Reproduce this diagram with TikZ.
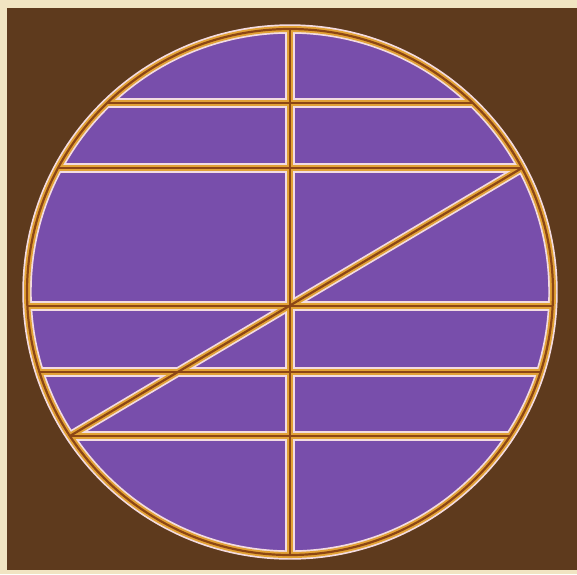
\documentclass[tikz,border=0pt]{standalone}
\usepackage{tikz}

\definecolor{paper}{HTML}{F1E4C2}
\definecolor{bgbrown}{HTML}{5E3A1D}
\definecolor{cellpurple}{HTML}{784EAB}
\definecolor{leadgold}{HTML}{E2A236}
\definecolor{leadcore}{HTML}{8C4615}
\definecolor{leadedge}{HTML}{F3DCE2}

\begin{document}
\begin{tikzpicture}[
    x=1pt, y=-1pt,
    edgeline/.style={draw=leadedge, line width=9.4pt},
    goldline/.style={draw=leadgold, line width=6pt},
    coreline/.style={draw=leadcore, line width=2.2pt}
]
\fill[paper] (0,0) rectangle (577,574);
\fill[bgbrown] (7,8) rectangle (577,570);

\coordinate (centre) at (290,292);
\coordinate (top) at (290,29);
\coordinate (bottom) at (290,555);
\coordinate (rowAw) at (107.1,103);
\coordinate (rowAe) at (472.9,103);
\coordinate (rowBw) at (58.1,168);
\coordinate (rowBe) at (521.9,168);
\coordinate (rowCw) at (27.4,306);
\coordinate (rowCe) at (552.6,306);
\coordinate (rowDw) at (39.5,372);
\coordinate (rowDe) at (540.5,372);
\coordinate (rowEw) at (69.9,436);
\coordinate (rowEe) at (510.1,436);

\fill[cellpurple] (centre) circle (263);

\foreach \layer in {edgeline,goldline,coreline} {
  \draw[\layer] (centre) circle (263);
  \draw[\layer] (top) -- (bottom);
  \draw[\layer] (rowAw) -- (rowAe);
  \draw[\layer] (rowBw) -- (rowBe);
  \draw[\layer] (rowCw) -- (rowCe);
  \draw[\layer] (rowDw) -- (rowDe);
  \draw[\layer] (rowEw) -- (rowEe);
  \draw[\layer] (rowBe) -- (rowEw);
}
\end{tikzpicture}
\end{document}
